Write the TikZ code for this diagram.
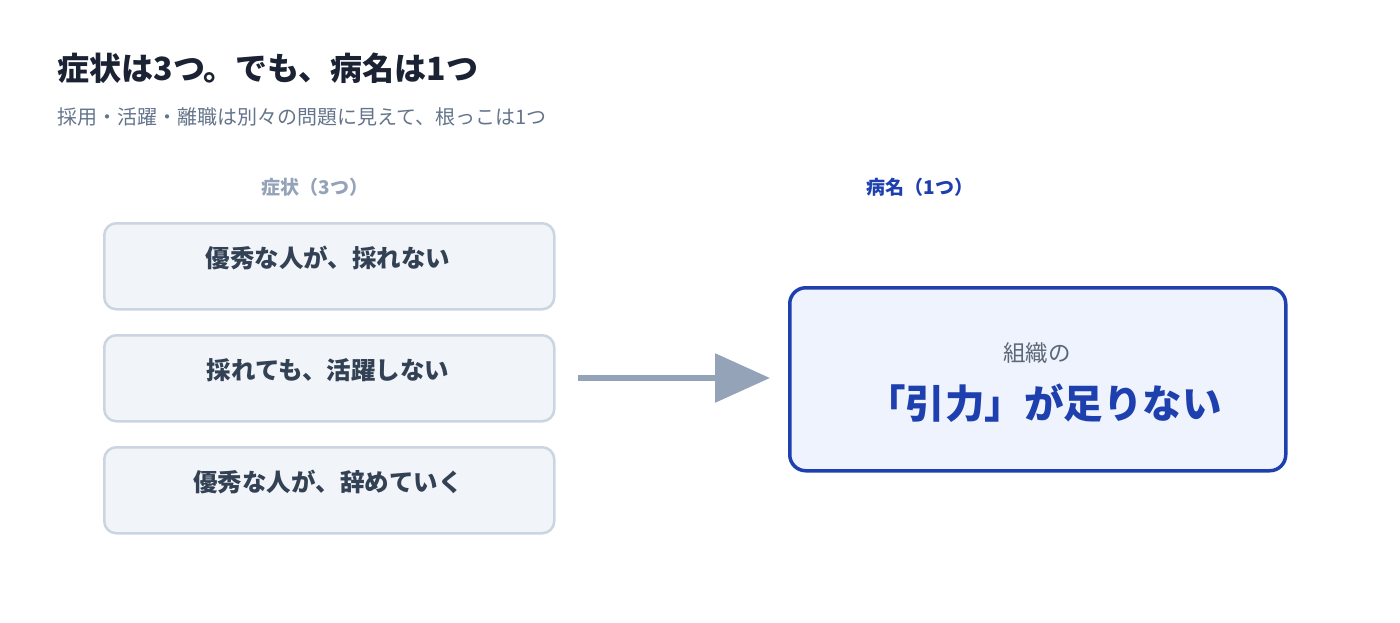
\documentclass[tikz,border=0pt]{standalone}
\usepackage{fontspec}
\setmainfont{Noto Sans CJK JP}
\usetikzlibrary{arrows.meta}
\definecolor{ink}{HTML}{1A2233}
\definecolor{sub}{HTML}{64748B}
\definecolor{muted}{HTML}{94A3B8}
\definecolor{boxfill}{HTML}{F1F4F8}
\definecolor{boxline}{HTML}{CBD5E1}
\definecolor{boxtext}{HTML}{334155}
\definecolor{blue}{HTML}{1E40AF}
\definecolor{bluefill}{HTML}{EEF3FD}
\begin{document}
\begin{tikzpicture}[x=1pt,y=-1pt,
  sym/.style={draw=boxline,line width=2.5pt,fill=boxfill,rounded corners=12pt,minimum width=450pt,minimum height=86pt,anchor=north west,inner sep=0pt},
  symtext/.style={text=boxtext,font=\fontsize{24.5}{29}\selectfont\bfseries}]
\useasboundingbox (0,0) rectangle (1400,622);
\node[anchor=west,text=ink,font=\fontsize{32}{38}\selectfont\bfseries] (title) at (54,68) {症状は3つ。でも、病名は1つ};
\node[anchor=west,text=sub,font=\fontsize{20}{24}\selectfont] (subt) at (54,117) {採用・活躍・離職は別々の問題に見えて、根っこは1つ};
\node[text=muted,font=\fontsize{19}{22}\selectfont\bfseries] (l1) at (315,187) {症状（3つ）};
\node[text=blue,font=\fontsize{19}{22}\selectfont\bfseries] (l2) at (920,187) {病名（1つ）};
\node[sym] (s1) at (103,222) {};
\node[sym] (s2) at (103,334) {};
\node[sym] (s3) at (103,446) {};
\node[symtext] (t1) at (328,258) {優秀な人が、採れない};
\node[symtext] (t2) at (328,370) {採れても、活躍しない};
\node[symtext] (t3) at (328,482) {優秀な人が、辞めていく};
\node[draw=blue,line width=3.5pt,fill=bluefill,rounded corners=16pt,minimum width=496pt,minimum height=183pt,anchor=north west,inner sep=0pt] (d) at (788,286) {};
\node[text=boxtext!80,font=\fontsize{22.5}{27}\selectfont] (d1) at (1037,353) {組織の};
\node[text=blue,font=\fontsize{39.5}{46}\selectfont\bfseries] (d2) at (1044,403) {「引力」が足りない};
\coordinate (a0) at (578,378);
\coordinate (a1) at (770,378);
\draw[muted,line width=6pt,-{Triangle[length=55pt,width=48pt]}] (a0) -- (a1);
\end{tikzpicture}
\end{document}
